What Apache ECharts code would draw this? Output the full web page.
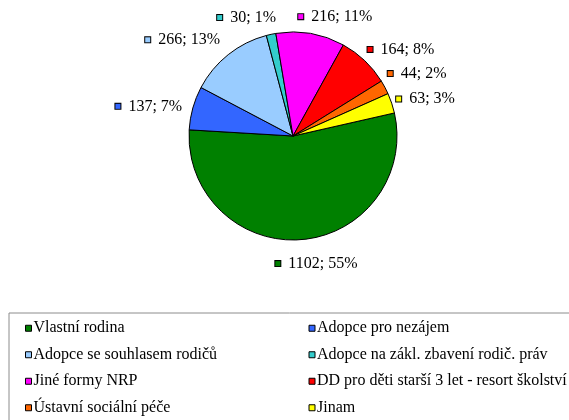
<!DOCTYPE html>
<html>
<head>
<meta charset="utf-8">
<script src="https://cdn.jsdelivr.net/npm/echarts@6/dist/echarts.min.js"></script>
<style>
html,body{margin:0;padding:0;background:#fff;}
#main{width:569px;height:420px;}
</style>
</head>
<body>
<div id="main"></div>
<script>
const categories = [
    'Vlastní rodina',
    'Adopce pro nezájem',
    'Adopce se souhlasem rodičů',
    'Adopce na zákl. zbavení rodič. práv',
    'Jiné formy NRP',
    'DD pro děti starší 3 let - resort školství',
    'Ústavní sociální péče',
    'Jinam'
];
const values = [1102, 137, 266, 30, 216, 164, 44, 63];
const percents = [55, 7, 13, 1, 11, 8, 2, 3];
const colors = ['#008000', '#3366ff', '#99ccff', '#33cccc', '#ff00ff', '#ff0000', '#ff6600', '#ffff00'];
// small nudges so the labels sit where Excel put them
const labelNudge = [[-32, 14], [4, 1], [3, -7], [12, -7], [-19, -7], [-9, -4], [-11, -9], [-10, -1]];

const rich = {
    t: {fontFamily: 'Liberation Serif', fontSize: 16, color: '#000', padding: [0, 0, 0, 8]}
};
colors.forEach((c, i) => {
    rich['s' + i] = {width: 5, height: 5, backgroundColor: c, borderColor: '#000', borderWidth: 1};
});

const myChart = echarts.init(document.getElementById('main'));
myChart.setOption({
    animation: false,
    color: colors,
    legend: {
        data: categories,
        left: 9,
        top: 313,
        width: 560,
        padding: [7, 60, 30, 16],
        borderColor: '#8c8c8c',
        borderWidth: 1,
        itemWidth: 6,
        itemHeight: 6,
        itemGap: 10,
        icon: 'rect',
        itemStyle: {borderColor: '#000', borderWidth: 1},
        textStyle: {
            fontFamily: 'Liberation Serif',
            fontSize: 16,
            color: '#000',
            width: 265,
            lineHeight: 16.5,
            padding: [0, 0, 0, -3]
        }
    },
    series: [
        {
            type: 'pie',
            center: [293, 136],
            radius: 104,
            startAngle: 12.8,
            clockwise: true,
            avoidLabelOverlap: false,
            itemStyle: {borderColor: '#000', borderWidth: 1},
            label: {
                position: 'outside',
                formatter: p => `{s${p.dataIndex}|}{t|${values[p.dataIndex]}; ${percents[p.dataIndex]}%}`,
                rich: rich
            },
            labelLine: {show: false, length: 10, length2: 0},
            labelLayout: p => ({dx: labelNudge[p.dataIndex][0], dy: labelNudge[p.dataIndex][1]}),
            emphasis: {disabled: true},
            data: categories.map((name, i) => ({name: name, value: values[i]}))
        }
    ]
});
</script>
</body>
</html>
